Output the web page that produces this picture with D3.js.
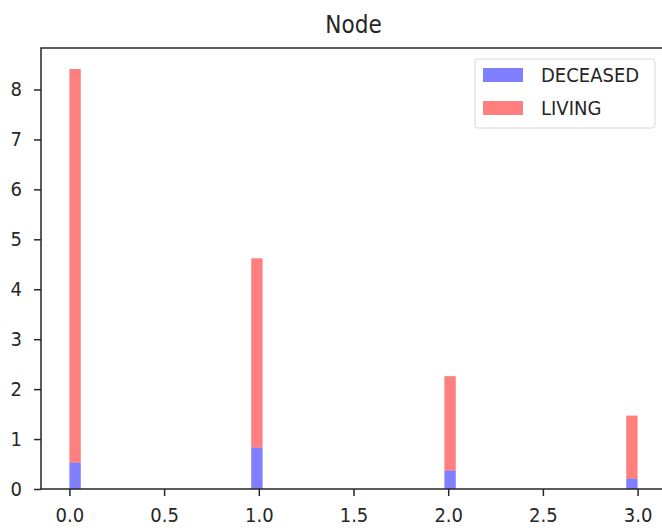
<!DOCTYPE html>
<html>
<head>
<meta charset="utf-8">
<script src="https://cdn.jsdelivr.net/npm/d3@7"></script>
<style>
  html, body { margin: 0; padding: 0; background: #fff; }
  svg { display: block; }
  text { font-family: "DejaVu Sans Condensed", "DejaVu Sans", sans-serif; font-stretch: condensed; fill: #262626; }
</style>
</head>
<body>
<svg id="chart" width="662" height="531"></svg>
<script>
// ---- data (density histogram, stacked) ----
const binStarts = [0.00, 0.96, 1.98, 2.94];   // left edge of each non-empty bin
const binWidth = 0.06;
const deceased = [0.53, 0.83, 0.37, 0.21];
const living   = [7.88, 3.79, 1.89, 1.26];
const xTicks = [0.0, 0.5, 1.0, 1.5, 2.0, 2.5, 3.0];
const yTicks = [0, 1, 2, 3, 4, 5, 6, 7, 8];
const seriesNames = ["DECEASED", "LIVING"];
const seriesColors = ["rgba(0,0,255,0.5)", "rgba(255,0,0,0.5)"];
const chartTitle = "Node";

(function () {
  const svg = d3.select("#chart");
  const mLeft = 41, mRight = 666, mTop = 48, mBottom = 489;

  const x = d3.scaleLinear().domain([-0.15, 3.15]).range([mLeft, mRight]);
  const totals = deceased.map((d, i) => d + living[i]);
  const yMax = d3.max(totals) * 1.05;
  const y = d3.scaleLinear().domain([0, yMax]).range([mBottom, mTop]);

  const rows = binStarts.map((b, i) => ({ b, DECEASED: deceased[i], LIVING: living[i] }));
  const stack = d3.stack().keys(seriesNames)(rows);

  const g = svg.append("g");
  stack.forEach((layer, k) => {
    g.selectAll(null).data(layer).enter().append("rect")
      .attr("x", d => x(d.data.b))
      .attr("width", d => x(d.data.b + binWidth) - x(d.data.b))
      .attr("y", d => y(d[1]))
      .attr("height", d => y(d[0]) - y(d[1]))
      .attr("fill", seriesColors[k]);
  });

  const xAxis = d3.axisBottom(x).tickValues(xTicks).tickFormat(d3.format(".1f")).tickSize(7).tickPadding(12);
  const yAxis = d3.axisLeft(y).tickValues(yTicks).tickFormat(d3.format("d")).tickSize(7).tickPadding(12);

  const gx = svg.append("g").attr("transform", `translate(0,${mBottom})`).call(xAxis);
  const gy = svg.append("g").attr("transform", `translate(${mLeft},0)`).call(yAxis);
  [gx, gy].forEach(a => {
    a.select(".domain").remove();
    a.selectAll(".tick line").attr("stroke", "#262626").attr("stroke-width", 1.5);
    a.selectAll(".tick text").style("font-size", "20px").attr("fill", "#333");
  });

  svg.append("rect")
    .attr("x", mLeft).attr("y", mTop)
    .attr("width", mRight - mLeft).attr("height", mBottom - mTop)
    .attr("fill", "none").attr("stroke", "#262626").attr("stroke-width", 1.5);

  svg.append("text")
    .attr("x", (mLeft + mRight) / 2).attr("y", 33)
    .attr("text-anchor", "middle")
    .style("font-size", "24px")
    .text(chartTitle);

  const lg = svg.append("g");
  lg.append("rect")
    .attr("x", 475).attr("y", 59).attr("width", 180).attr("height", 69)
    .attr("rx", 3).attr("fill", "rgba(255,255,255,0.8)")
    .attr("stroke", "#d6d6d6").attr("stroke-width", 1);
  seriesNames.forEach((name, i) => {
    const cy = 75 + i * 33;
    lg.append("rect")
      .attr("x", 483).attr("y", cy - 7).attr("width", 40).attr("height", 14)
      .attr("fill", seriesColors[i]);
    lg.append("text")
      .attr("x", 541).attr("y", cy).attr("dy", "0.36em")
      .style("font-size", "20px")
      .text(name);
  });
})();
</script>
</body>
</html>
